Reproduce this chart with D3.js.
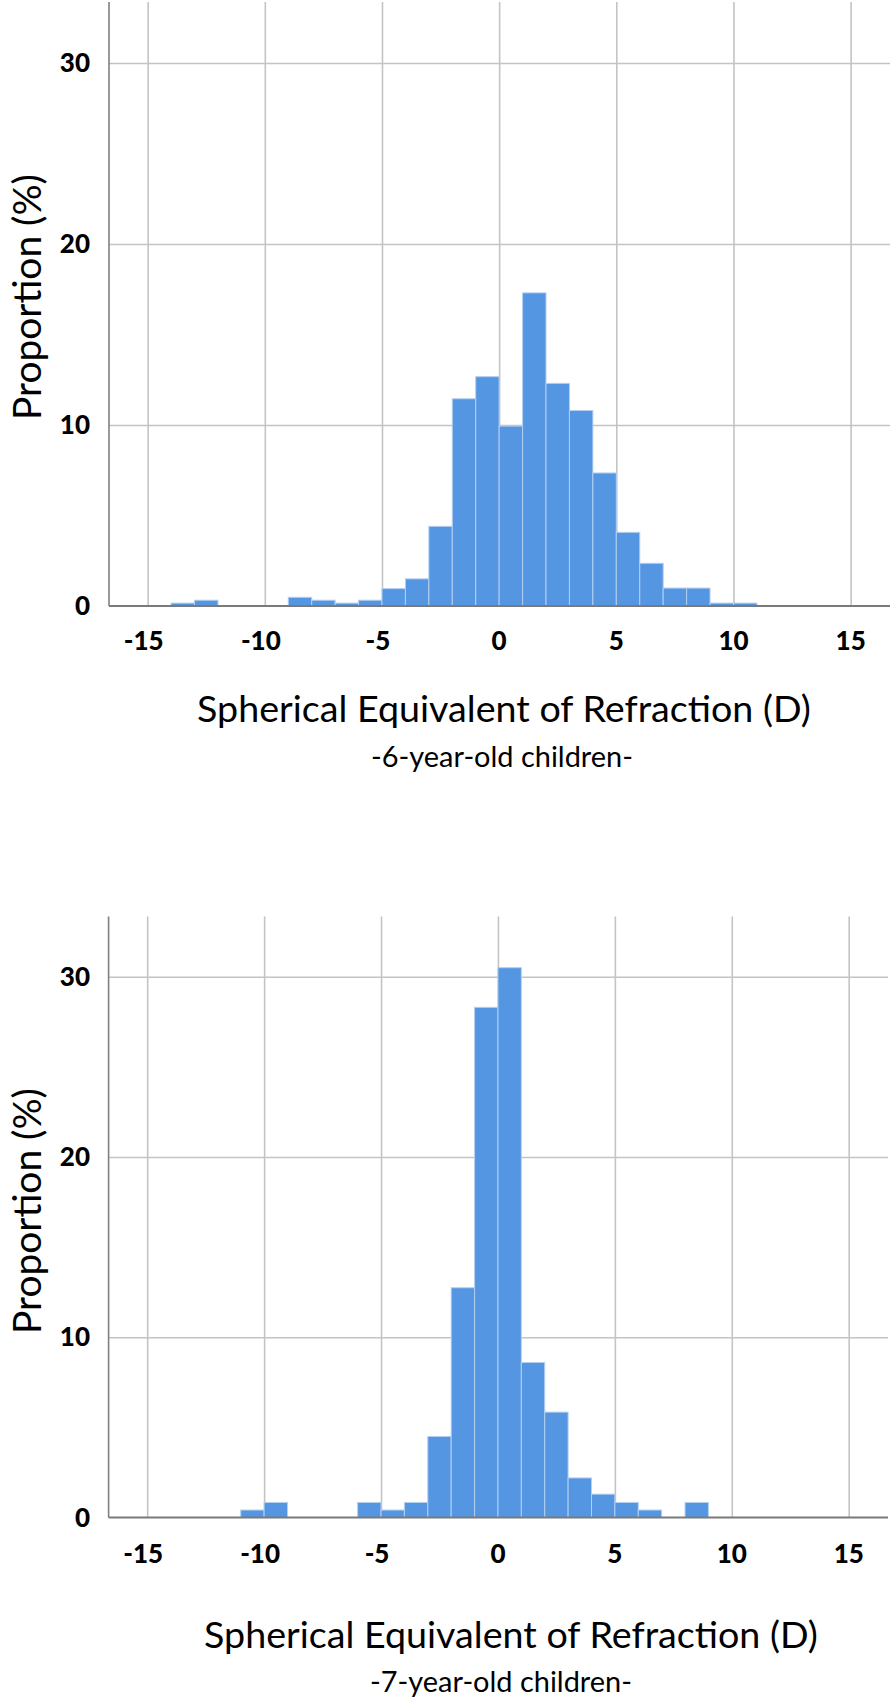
<!DOCTYPE html>
<html>
<head>
<meta charset="utf-8">
<script src="https://cdn.jsdelivr.net/npm/d3@7"></script>
<style>
  html, body { margin: 0; padding: 0; background: #ffffff; }
  svg { display: block; }
</style>
</head>
<body>
<svg id="chart" width="896" height="1700"></svg>
<script>
// ---- data ----
const xTicks = [-15, -10, -5, 0, 5, 10, 15];
const yTicks = [0, 10, 20, 30];

// 6-year-old: bin lower edges (width 1 D) and proportions (%)
const bins6 = [-14, -13, -12, -11, -10, -9, -8, -7, -6, -5, -4, -3, -2, -1, 0, 1, 2, 3, 4, 5, 6, 7, 8, 9, 10];
const prop6 = [0.16, 0.32, 0, 0, 0, 0.48, 0.32, 0.16, 0.32, 0.96, 1.5, 4.4, 11.45, 12.67, 9.94, 17.3, 12.3, 10.8, 7.35, 4.07, 2.36, 0.99, 0.99, 0.16, 0.16];

// 7-year-old
const bins7 = [-11, -10, -9, -8, -7, -6, -5, -4, -3, -2, -1, 0, 1, 2, 3, 4, 5, 6, 7, 8];
const prop7 = [0.42, 0.84, 0, 0, 0, 0.84, 0.42, 0.84, 4.5, 12.75, 28.3, 30.5, 8.6, 5.85, 2.2, 1.3, 0.84, 0.42, 0, 0.84];

const xTitle = "Spherical Equivalent of Refraction (D)";
const yTitle = "Proportion (%)";
const subtitles = ["-6-year-old children-", "-7-year-old children-"];

// ---- drawing ----
const svg = d3.select("#chart");
const FONT = "Lato, 'Open Sans', 'DejaVu Sans', sans-serif";

function fitWidth(sel, target) {
  const node = sel.node();
  const fs = parseFloat(sel.attr("font-size"));
  const w = node.getComputedTextLength();
  if (w > 0) sel.attr("font-size", (fs * target / w).toFixed(2));
}

function drawPanel(cfg) {
  const g = svg.append("g");
  const x = d3.scaleLinear().domain([-16.65, 16.68]).range([cfg.left, cfg.right]);
  const y = d3.scaleLinear().domain([0, 30]).range([cfg.base, cfg.y30]);

  // vertical gridlines
  g.append("g").call(
    d3.axisBottom(x).tickValues(xTicks).tickSize(-(cfg.base - cfg.top)).tickFormat("")
  ).attr("transform", `translate(0,${cfg.base})`)
   .call(s => s.select(".domain").remove())
   .call(s => s.selectAll("line").attr("stroke", "#c4c4c4").attr("stroke-width", 1.6));

  // horizontal gridlines
  g.append("g").call(
    d3.axisLeft(y).tickValues(yTicks.filter(d => d > 0)).tickSize(-(cfg.right - cfg.left)).tickFormat("")
  ).attr("transform", `translate(${cfg.left},0)`)
   .call(s => s.select(".domain").remove())
   .call(s => s.selectAll("line").attr("stroke", "#c4c4c4").attr("stroke-width", 1.6));

  // bars
  g.append("g").selectAll("rect")
    .data(cfg.bins.map((b, i) => ({ b, v: cfg.vals[i] })).filter(d => d.v > 0))
    .join("rect")
    .attr("x", d => x(d.b))
    .attr("width", d => x(d.b + 1) - x(d.b))
    .attr("y", d => y(d.v))
    .attr("height", d => y(0) - y(d.v))
    .attr("fill", "#5596e2")
    .attr("stroke", "#b3cff2")
    .attr("stroke-width", 1);

  // axis lines
  g.append("line")
    .attr("x1", cfg.left).attr("x2", cfg.left)
    .attr("y1", cfg.top).attr("y2", cfg.base)
    .attr("stroke", "#808080").attr("stroke-width", 1.6);
  g.append("line")
    .attr("x1", cfg.left).attr("x2", cfg.right)
    .attr("y1", cfg.base).attr("y2", cfg.base)
    .attr("stroke", "#7a7a7a").attr("stroke-width", 2);

  // y tick labels
  g.append("g").selectAll("text")
    .data(yTicks).join("text")
    .attr("x", 90)
    .attr("y", d => y(d) + 9)
    .attr("text-anchor", "end")
    .attr("font-family", FONT)
    .attr("font-weight", 900)
    .attr("font-size", 26)
    .attr("fill", "#000")
    .text(d => d);

  // x tick labels
  g.append("g").selectAll("text")
    .data(xTicks).join("text")
    .attr("x", d => x(d) - (d < 0 ? 4 : 0))
    .attr("y", cfg.base + cfg.tickDy)
    .attr("text-anchor", "middle")
    .attr("font-family", FONT)
    .attr("font-weight", 900)
    .attr("font-size", 26)
    .attr("fill", "#000")
    .text(d => d);

  // x title
  const xt = g.append("text")
    .attr("x", cfg.titleX)
    .attr("y", cfg.titleY)
    .attr("text-anchor", "middle")
    .attr("font-family", FONT)
    .attr("font-size", 36)
    .attr("fill", "#000")
    .text(xTitle);
  fitWidth(xt, 614);

  // subtitle
  const st = g.append("text")
    .attr("x", cfg.subX)
    .attr("y", cfg.subY)
    .attr("text-anchor", "middle")
    .attr("font-family", FONT)
    .attr("font-size", 28)
    .attr("fill", "#000")
    .text(cfg.subtitle);
  fitWidth(st, 262);

  // y title
  const yt = g.append("text")
    .attr("transform", `translate(41,${cfg.yTitleY}) rotate(-90)`)
    .attr("text-anchor", "middle")
    .attr("font-family", FONT)
    .attr("font-size", 34)
    .attr("fill", "#000")
    .text(yTitle);
  fitWidth(yt, 246);
}

drawPanel({
  left: 109, right: 890, top: 2, base: 606, y30: 63,
  bins: bins6, vals: prop6, tickDy: 43.5,
  titleX: 504, titleY: 722, subX: 502, subY: 767, subtitle: subtitles[0],
  yTitleY: 297
});

drawPanel({
  left: 108.6, right: 888, top: 916.6, base: 1517.6, y30: 976.7,
  bins: bins7, vals: prop7, tickDy: 45,
  titleX: 511, titleY: 1648, subX: 501, subY: 1692, subtitle: subtitles[1],
  yTitleY: 1211
});
</script>
</body>
</html>
